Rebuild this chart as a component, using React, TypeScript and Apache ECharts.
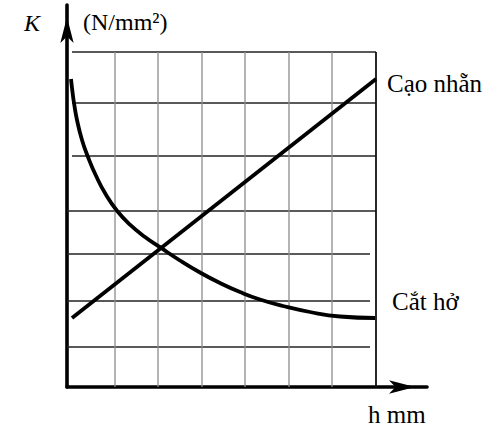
import React, { useEffect, useRef } from "react";
import * as echarts from "echarts";

// Curve "Cắt hở" (h, K) in chart units
const catHoX = [0.4, 0.55, 0.7, 1.0, 1.5, 2.1, 2.9, 3.9, 5.0, 6.3, 7.8, 9.3, 11.3, 13.3, 15.3, 17.3, 19.3, 21.6, 24.3, 27.3, 30.8];
const catHoY = [30.8, 29.5, 28.4, 26.7, 24.7, 23.0, 21.12, 19.22, 17.63, 16.23, 15.0, 13.98, 12.65, 11.45, 10.4, 9.5, 8.75, 8.1, 7.5, 7.05, 6.9];
// Line "Cạo nhẵn"
const caoNhanX = [0.5, 30.9];
const caoNhanY = [6.9, 30.8];
// Grid
const hGridY = [33.5, 28.4, 23.1, 17.6, 13.3, 8.6, 4.0];
const hGridStart = [0.5, 0.5, 0.5, 0, 0, 0, 0];
const hGridEnd = [30.9, 30.9, 30.9, 30.9, 30.3, 30.3, 30.3];
const vGridX = [4.8, 9.1, 13.5, 17.8, 22.2, 26.5];
const borderX = 30.9;
const gridTop = 33.5;

const labels = {
  yName: "K",
  yUnit: "(N/mm²)",
  xName: "h mm",
  line: "Cạo nhẵn",
  curve: "Cắt hở",
};

export default function App() {
  const ref = useRef<HTMLDivElement>(null);
  useEffect(() => {
    const chart = echarts.init(ref.current!, undefined, { renderer: "svg" });
    const series: any[] = [];
    hGridY.forEach((y, i) => {
      series.push({
        type: "line",
        data: [[hGridStart[i], y], [hGridEnd[i], y]],
        symbol: "none",
        lineStyle: { color: "#222", width: 1.7 },
        silent: true,
        z: 1,
      });
    });
    vGridX.forEach((x) => {
      series.push({
        type: "line",
        data: [[x, 0], [x, gridTop]],
        symbol: "none",
        lineStyle: { color: "#8c8c8c", width: 1.3 },
        silent: true,
        z: 1,
      });
    });
    series.push({
      type: "line",
      data: [[borderX, 0], [borderX, gridTop]],
      symbol: "none",
      lineStyle: { color: "#111", width: 1.8 },
      silent: true,
      z: 1,
    });
    series.push({
      type: "line",
      name: labels.line,
      data: caoNhanX.map((x, i) => [x, caoNhanY[i]]),
      symbol: "none",
      lineStyle: { color: "#000", width: 3.8 },
      z: 3,
    });
    series.push({
      type: "line",
      name: labels.curve,
      data: catHoX.map((x, i) => [x, catHoY[i]]),
      symbol: "none",
      smooth: 0.5,
      lineStyle: { color: "#000", width: 3.8 },
      z: 3,
    });
    const font = "'Liberation Serif', 'Times New Roman', serif";
    chart.setOption({
      animation: false,
      grid: { left: 67, right: 70, top: 5, bottom: 43 },
      xAxis: {
        type: "value",
        min: 0,
        max: 36,
        axisLine: {
          show: true,
          lineStyle: { color: "#000", width: 3.6 },
          symbol: ["none", "arrow"],
          symbolSize: [10, 26],
          symbolOffset: [0, -12],
        },
        axisTick: { show: false },
        axisLabel: { show: false },
        splitLine: { show: false },
      },
      yAxis: {
        type: "value",
        min: 0,
        max: 38.2,
        axisLine: {
          show: true,
          lineStyle: { color: "#000", width: 3.6 },
          symbol: ["none", "arrow"],
          symbolSize: [10, 26],
          symbolOffset: [0, -12],
        },
        axisTick: { show: false },
        axisLabel: { show: false },
        splitLine: { show: false },
      },
      series,
      graphic: [
        { type: "text", style: { x: 24, y: 23, text: labels.yName, font: `italic 24px ${font}`, fill: "#000", textVerticalAlign: "middle" } },
        { type: "text", style: { x: 83, y: 22, text: labels.yUnit, font: `24px ${font}`, fill: "#000", textVerticalAlign: "middle" } },
        { type: "text", style: { x: 387, y: 83, text: labels.line, font: `25px ${font}`, fill: "#000", textVerticalAlign: "middle" } },
        { type: "text", style: { x: 392, y: 301, text: labels.curve, font: `25px ${font}`, fill: "#000", textVerticalAlign: "middle" } },
        { type: "text", style: { x: 368, y: 414, text: labels.xName, font: `25px ${font}`, fill: "#000", textVerticalAlign: "middle" } },
      ],
    });
    return () => chart.dispose();
  }, []);
  return <div ref={ref} style={{ position: "fixed", left: 0, top: 0, width: 497, height: 430, background: "#fff" }} />;
}
